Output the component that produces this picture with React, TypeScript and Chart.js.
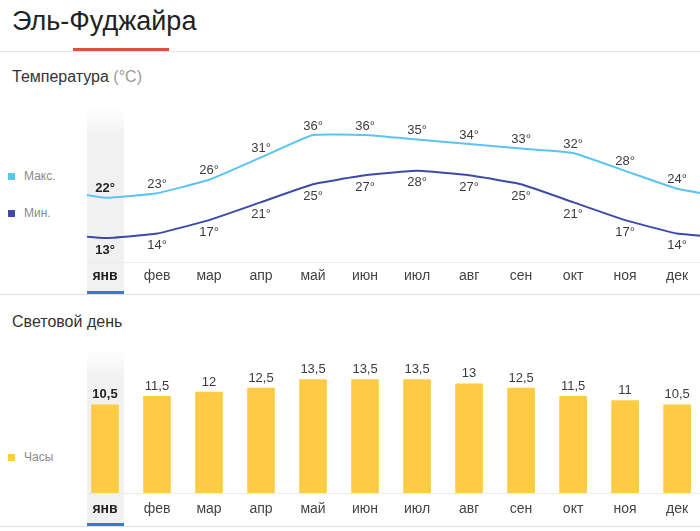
import React, { useEffect, useRef } from 'react';
import { Chart, registerables } from 'chart.js';

Chart.register(...registerables);

const months = ['янв', 'фев', 'мар', 'апр', 'май', 'июн', 'июл', 'авг', 'сен', 'окт', 'ноя', 'дек'];
const maxTemps = [22, 23, 26, 31, 36, 36, 35, 34, 33, 32, 28, 24];
const minTemps = [13, 14, 17, 21, 25, 27, 28, 27, 25, 21, 17, 14];
const daylight = [10.5, 11.5, 12, 12.5, 13.5, 13.5, 13.5, 13, 12.5, 11.5, 11, 10.5];

const FONT = '"Liberation Sans", Arial, sans-serif';
const MAX_COLOR = '#5bc4f1';
const MIN_COLOR = '#3f4aa8';
const BAR_COLOR = '#fecb45';

// wrap-around points so the line runs to the edges (previous dec, next jan)
const wrap = (arr: number[]) => [
  { x: -1, y: arr[arr.length - 1] },
  ...arr.map((v, i) => ({ x: i, y: v })),
  { x: arr.length, y: arr[0] },
];

const labelPlugin = {
  id: 'valueLabels',
  afterDatasetsDraw(chart: any) {
    const ctx = chart.ctx;
    ctx.save();
    chart.data.datasets.forEach((ds: any, di: number) => {
      const meta = chart.getDatasetMeta(di);
      meta.data.forEach((el: any, idx: number) => {
        const raw = ds.data[idx];
        const xv = raw.x;
        if (xv < 0 || xv > 11) return;
        const text = ds.fmt(raw.y);
        ctx.font = (xv === 0 ? 'bold ' : '') + '13px ' + FONT;
        ctx.fillStyle = xv === 0 ? '#222' : '#3c3c3c';
        ctx.textAlign = 'center';
        ctx.textBaseline = 'middle';
        const y = ds.labelPos === 'below' ? el.y + ds.labelOff : el.y - ds.labelOff;
        ctx.fillText(text, el.x, y);
      });
    });
    ctx.restore();
  },
};

const xScale = (height: number, pad: number) => ({
  type: 'linear',
  min: -0.346,
  max: 11.44,
  offset: false,
  afterBuildTicks: (scale: any) => {
    scale.ticks = months.map((_, i) => ({ value: i }));
  },
  afterFit: (scale: any) => {
    scale.height = height;
    scale.paddingLeft = 0;
    scale.paddingRight = 0;
  },
  grid: { display: false, drawTicks: false, offset: false },
  border: { display: true, color: '#ececec', width: 1 },
  ticks: {
    padding: pad,
    autoSkip: false,
    maxRotation: 0,
    callback: (v: any) => months[v],
    color: (c: any) => (c.tick && c.tick.value === 0 ? '#222' : '#444'),
    font: (c: any) => ({
      family: FONT,
      size: 14,
      weight: c.tick && c.tick.value === 0 ? 'bold' : 'normal',
    }),
  },
});

function TempChart() {
  const ref = useRef<HTMLCanvasElement>(null);
  useEffect(() => {
    const chart = new Chart(ref.current as HTMLCanvasElement, {
      type: 'line',
      data: {
        datasets: [
          {
            data: wrap(maxTemps),
            borderColor: MAX_COLOR,
            borderWidth: 2,
            pointRadius: 0,
            tension: 0.12,
            fill: false,
            fmt: (v: number) => v + '°',
            labelPos: 'above',
            labelOff: 9,
          } as any,
          {
            data: wrap(minTemps),
            borderColor: MIN_COLOR,
            borderWidth: 2,
            pointRadius: 0,
            tension: 0.12,
            fill: false,
            fmt: (v: number) => v + '°',
            labelPos: 'below',
            labelOff: 12,
          } as any,
        ],
      },
      options: {
        animation: false,
        responsive: false,
        maintainAspectRatio: false,
        layout: { padding: 0 },
        plugins: { legend: { display: false }, tooltip: { enabled: false } },
        scales: {
          x: xScale(28, 6) as any,
          y: { display: false, min: 7.64, max: 43.82 },
        },
      },
      plugins: [labelPlugin],
    });
    return () => chart.destroy();
  }, []);
  return <canvas ref={ref} width={613} height={190} style={{ position: 'absolute', left: 87, top: 100, width: 613, height: 190 }} />;
}

function DayChart() {
  const ref = useRef<HTMLCanvasElement>(null);
  useEffect(() => {
    const chart = new Chart(ref.current as HTMLCanvasElement, {
      type: 'bar',
      data: {
        datasets: [
          {
            data: daylight.map((v, i) => ({ x: i, y: v })),
            backgroundColor: BAR_COLOR,
            borderWidth: 0,
            barThickness: 27,
            fmt: (v: number) => String(v).replace('.', ','),
            labelPos: 'above',
            labelOff: 10,
          } as any,
        ],
      },
      options: {
        animation: false,
        responsive: false,
        maintainAspectRatio: false,
        layout: { padding: 0 },
        plugins: { legend: { display: false }, tooltip: { enabled: false } },
        scales: {
          x: xScale(30, 8) as any,
          y: { display: false, min: 0, max: 18.21 },
        },
      },
      plugins: [labelPlugin],
    });
    return () => chart.destroy();
  }, []);
  return <canvas ref={ref} width={613} height={183} style={{ position: 'absolute', left: 87, top: 340, width: 613, height: 183 }} />;
}

const abs = (s: any) => ({ position: 'absolute', ...s } as React.CSSProperties);

function Legend({ top, color, text }: { top: number; color: string; text: string }) {
  return (
    <>
      <div style={abs({ left: 8, top: top - 3.5, width: 7, height: 7, background: color })} />
      <div style={abs({ left: 24, top: top - 8, fontSize: 12, lineHeight: '16px', color: '#8a8a8a', fontFamily: FONT })}>{text}</div>
    </>
  );
}

export default function App() {
  return (
    <div style={abs({ left: 0, top: 0, width: 700, height: 531, overflow: 'hidden', background: '#fff', fontFamily: FONT })}>
      <div style={abs({ left: 12, top: 4, fontSize: 27, lineHeight: '34px', color: '#222' })}>Эль-Фуджайра</div>
      <div style={abs({ left: 0, top: 51, width: 700, height: 1, background: '#e4e4e4' })} />
      <div style={abs({ left: 73, top: 48, width: 96, height: 3, background: '#d95340' })} />
      <div style={abs({ left: 12, top: 67, fontSize: 16, lineHeight: '20px', color: '#333' })}>
        Температура <span style={{ color: '#9a9a9a' }}>(°C)</span>
      </div>
      <Legend top={176} color={MAX_COLOR} text="Макс." />
      <Legend top={213} color={MIN_COLOR} text="Мин." />
      <div style={abs({ left: 87, top: 108, width: 37, height: 183, background: 'linear-gradient(to bottom, #ffffff 0px, #f1f1f1 28px, #f1f1f1 100%)' })} />
      <div style={abs({ left: 87, top: 291, width: 37, height: 3, background: '#2f7bd6' })} />
      <div style={abs({ left: 0, top: 294, width: 700, height: 1, background: '#e0e0e0' })} />
      <TempChart />

      <div style={abs({ left: 12, top: 312, fontSize: 16, lineHeight: '20px', color: '#333' })}>Световой день</div>
      <Legend top={457} color={BAR_COLOR} text="Часы" />
      <div style={abs({ left: 87, top: 350, width: 37, height: 173, background: 'linear-gradient(to bottom, #ffffff 0px, #f1f1f1 28px, #f1f1f1 100%)' })} />
      <div style={abs({ left: 87, top: 523, width: 37, height: 3, background: '#2f7bd6' })} />
      <div style={abs({ left: 0, top: 526, width: 700, height: 1, background: '#e0e0e0' })} />
      <DayChart />
    </div>
  );
}
